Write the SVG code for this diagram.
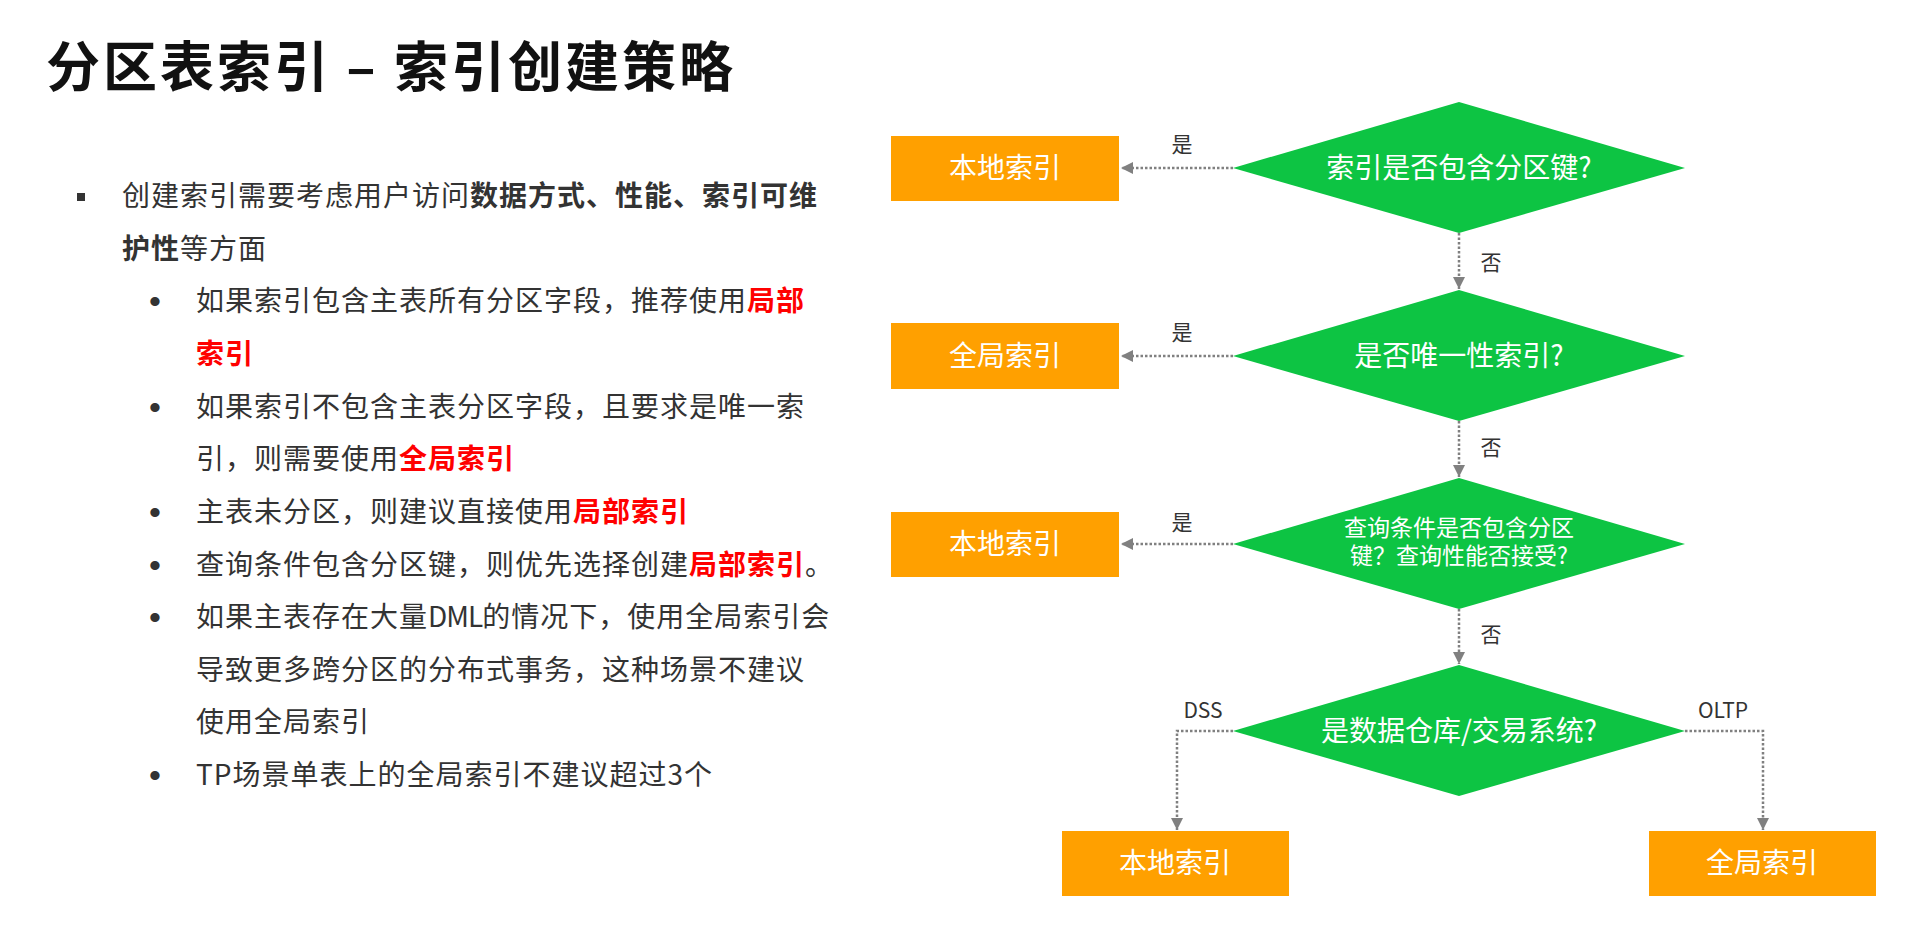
<svg xmlns="http://www.w3.org/2000/svg" width="1920" height="950" viewBox="0 0 1920 950">
<style>
.title{font-family:"Noto Sans CJK SC",sans-serif;font-size:54px;font-weight:bold;fill:#111;letter-spacing:3px}
.body{font-family:"Noto Sans CJK SC",sans-serif;font-size:28px;fill:#333;letter-spacing:1px}
.b{font-weight:bold}
.r{font-weight:bold;fill:#ff0000}
.dot{font-family:"Liberation Sans",sans-serif;font-size:34px;fill:#333}
.box{fill:#ffa000}
.dia{fill:#0dc443}
.nt{font-family:"Noto Sans CJK SC",sans-serif;font-size:28px;fill:#fff;text-anchor:middle}
.nt2{font-family:"Noto Sans CJK SC",sans-serif;font-size:23px;fill:#fff;text-anchor:middle}
.lbl{font-family:"Noto Sans CJK SC",sans-serif;font-size:21px;fill:#333;text-anchor:middle}
.conn{fill:none;stroke:#808080;stroke-width:2.5;stroke-dasharray:2.5 2}
</style>
<defs>
<marker id="arr" markerUnits="userSpaceOnUse" markerWidth="12" markerHeight="12" refX="12" refY="6" orient="auto">
<path d="M0,0 L12,6 L0,12 Z" fill="#808080"/>
</marker>
</defs>
<rect width="1920" height="950" fill="#fff"/>
<text class="title" x="46" y="87">分区表索引 – 索引创建策略</text>
<g id="bullets">
<rect x="77" y="193" width="8" height="8" fill="#333"/>
<text class="body" x="122" y="206">创建索引需要考虑用户访问<tspan class="b">数据方式、性能、索引可维</tspan></text>
<text class="body" x="122" y="259"><tspan class="b">护性</tspan>等方面</text>
<text class="dot" x="149" y="313">•</text>
<text class="body" x="196" y="311">如果索引包含主表所有分区字段，推荐使用<tspan class="r">局部</tspan></text>
<text class="body" x="196" y="364"><tspan class="r">索引</tspan></text>
<text class="dot" x="149" y="419">•</text>
<text class="body" x="196" y="417">如果索引不包含主表分区字段，且要求是唯一索</text>
<text class="body" x="196" y="469">引，则需要使用<tspan class="r">全局索引</tspan></text>
<text class="dot" x="149" y="524">•</text>
<text class="body" x="196" y="522">主表未分区，则建议直接使用<tspan class="r">局部索引</tspan></text>
<text class="dot" x="149" y="577">•</text>
<text class="body" x="196" y="575">查询条件包含分区键，则优先选择创建<tspan class="r">局部索引</tspan>。</text>
<text class="dot" x="149" y="629">•</text>
<text class="body" x="196" y="627">如果主表存在大量<tspan letter-spacing="-1">DML</tspan>的情况下，使用全局索引会</text>
<text class="body" x="196" y="680">导致更多跨分区的分布式事务，这种场景不建议</text>
<text class="body" x="196" y="732">使用全局索引</text>
<text class="dot" x="149" y="787">•</text>
<text class="body" x="196" y="785">TP场景单表上的全局索引不建议超过3个</text>
</g>
<g id="connectors">
<path class="conn" d="M1233,168 H1121" marker-end="url(#arr)"/>
<path class="conn" d="M1459,233 V289" marker-end="url(#arr)"/>
<path class="conn" d="M1233,356 H1121" marker-end="url(#arr)"/>
<path class="conn" d="M1459,421 V477" marker-end="url(#arr)"/>
<path class="conn" d="M1233,544 H1121" marker-end="url(#arr)"/>
<path class="conn" d="M1459,609 V664" marker-end="url(#arr)"/>
<path class="conn" d="M1233,731 H1177 V830" marker-end="url(#arr)"/>
<path class="conn" d="M1685,731 H1763 V830" marker-end="url(#arr)"/>
<text class="lbl" x="1182" y="152">是</text>
<text class="lbl" x="1491" y="270">否</text>
<text class="lbl" x="1182" y="340">是</text>
<text class="lbl" x="1491" y="455">否</text>
<text class="lbl" x="1182" y="530">是</text>
<text class="lbl" x="1491" y="642">否</text>
<text class="lbl" x="1203" y="718">DSS</text>
<text class="lbl" x="1723" y="718">OLTP</text>
</g>
<g id="q1">
<polygon class="dia" points="1459,102 1685,168 1459,233 1233,168"/>
<text class="nt" x="1459" y="178">索引是否包含分区键?</text>
</g>
<g id="q2">
<polygon class="dia" points="1459,290 1685,356 1459,421 1233,356"/>
<text class="nt" x="1459" y="366">是否唯一性索引?</text>
</g>
<g id="q3">
<polygon class="dia" points="1459,478 1685,544 1459,609 1233,544"/>
<text class="nt2" x="1459" y="536">查询条件是否包含分区</text>
<text class="nt2" x="1459" y="564">键？查询性能否接受?</text>
</g>
<g id="q4">
<polygon class="dia" points="1459,665 1685,731 1459,796 1233,731"/>
<text class="nt" x="1459" y="741">是数据仓库/交易系统?</text>
</g>
<g id="local1">
<rect class="box" x="891" y="136" width="228" height="65"/>
<text class="nt" x="1005" y="178">本地索引</text>
</g>
<g id="global1">
<rect class="box" x="891" y="323" width="228" height="66"/>
<text class="nt" x="1005" y="366">全局索引</text>
</g>
<g id="local2">
<rect class="box" x="891" y="512" width="228" height="65"/>
<text class="nt" x="1005" y="554">本地索引</text>
</g>
<g id="local3">
<rect class="box" x="1062" y="831" width="227" height="65"/>
<text class="nt" x="1175" y="873">本地索引</text>
</g>
<g id="global2">
<rect class="box" x="1649" y="831" width="227" height="65"/>
<text class="nt" x="1762" y="873">全局索引</text>
</g>
</svg>
